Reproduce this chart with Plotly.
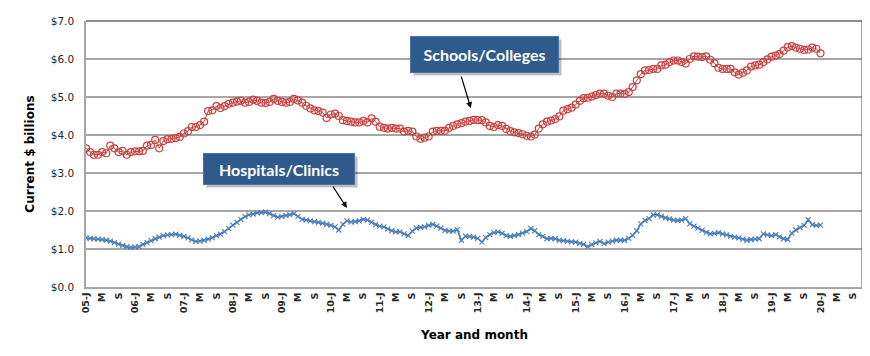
import plotly.graph_objects as go
import pandas as pd

start_month = "2005-01"

schools = [3.65, 3.55, 3.48, 3.48, 3.55, 3.52, 3.72, 3.65, 3.55, 3.58, 3.48, 3.55,
           3.57, 3.57, 3.58, 3.72, 3.74, 3.87, 3.65, 3.84, 3.89, 3.90, 3.92, 3.95,
           4.04, 4.10, 4.21, 4.21, 4.26, 4.35, 4.63, 4.65, 4.76, 4.71, 4.76, 4.82,
           4.85, 4.88, 4.90, 4.85, 4.87, 4.93, 4.90, 4.85, 4.84, 4.87, 4.95, 4.90,
           4.87, 4.85, 4.87, 4.95, 4.91, 4.85, 4.77, 4.70, 4.65, 4.63, 4.59, 4.45,
           4.54, 4.56, 4.50, 4.39, 4.37, 4.35, 4.33, 4.33, 4.37, 4.33, 4.44, 4.35,
           4.22, 4.19, 4.17, 4.19, 4.17, 4.17, 4.09, 4.11, 4.09, 3.96, 3.90, 3.93,
           3.96, 4.09, 4.11, 4.11, 4.11, 4.19, 4.24, 4.28, 4.31, 4.35, 4.37, 4.40,
           4.39, 4.39, 4.33, 4.24, 4.21, 4.26, 4.24, 4.16, 4.10, 4.07, 4.05, 4.02,
           3.98, 3.96, 4.01, 4.17, 4.28, 4.35, 4.38, 4.42, 4.49, 4.64, 4.68, 4.72,
           4.80, 4.90, 4.97, 4.98, 5.01, 5.05, 5.09, 5.09, 5.03, 5.00, 5.09, 5.09,
           5.08, 5.13, 5.26, 5.44, 5.60, 5.70, 5.71, 5.74, 5.74, 5.83, 5.85, 5.92,
           5.96, 5.96, 5.92, 5.88, 6.00, 6.07, 6.06, 6.05, 6.07, 5.98, 5.89, 5.77,
           5.74, 5.74, 5.74, 5.65, 5.59, 5.64, 5.70, 5.80, 5.83, 5.85, 5.92, 5.99,
           6.06, 6.09, 6.13, 6.22, 6.31, 6.34, 6.30, 6.27, 6.24, 6.25, 6.30, 6.27,
           6.15]

hospitals = [1.29, 1.28, 1.27, 1.26, 1.25, 1.23, 1.21, 1.17, 1.13, 1.09, 1.06, 1.04,
             1.05, 1.06, 1.12, 1.17, 1.22, 1.27, 1.31, 1.35, 1.37, 1.38, 1.39, 1.36,
             1.33, 1.29, 1.24, 1.20, 1.21, 1.23, 1.26, 1.30, 1.35, 1.39, 1.46, 1.54,
             1.63, 1.70, 1.78, 1.85, 1.90, 1.92, 1.95, 1.96, 1.97, 1.93, 1.88, 1.84,
             1.86, 1.88, 1.90, 1.93, 1.86, 1.78, 1.76, 1.74, 1.72, 1.70, 1.68, 1.65,
             1.62, 1.58, 1.50, 1.65, 1.74, 1.71, 1.72, 1.74, 1.78, 1.76, 1.70, 1.64,
             1.60, 1.58, 1.53, 1.48, 1.45, 1.45, 1.40, 1.35, 1.47, 1.55, 1.57, 1.58,
             1.62, 1.65, 1.60, 1.55, 1.49, 1.47, 1.47, 1.51, 1.23, 1.34, 1.33, 1.31,
             1.28, 1.18, 1.30, 1.38, 1.43, 1.45, 1.41, 1.35, 1.33, 1.35, 1.38, 1.42,
             1.46, 1.54, 1.48, 1.38, 1.33, 1.27, 1.28, 1.27, 1.23, 1.22, 1.20, 1.19,
             1.18, 1.15, 1.12, 1.06, 1.12, 1.16, 1.20, 1.14, 1.18, 1.21, 1.23, 1.23,
             1.23, 1.28, 1.36, 1.48, 1.66, 1.75, 1.80, 1.90, 1.90, 1.86, 1.82, 1.79,
             1.76, 1.75, 1.76, 1.80, 1.66, 1.60, 1.55, 1.49, 1.44, 1.40, 1.41, 1.43,
             1.40, 1.37, 1.33, 1.31, 1.29, 1.26, 1.23, 1.25, 1.26, 1.27, 1.40, 1.37,
             1.35, 1.38, 1.32, 1.27, 1.25, 1.42, 1.50, 1.56, 1.62, 1.77, 1.64, 1.62,
             1.63]

tick_years = list(range(5, 21))
tick_months = ["J", "M", "S"]

months = pd.date_range(start_month, periods=len(schools), freq="MS")
tick_vals = pd.date_range(start_month, "2020-09", freq="4MS")
tick_text = []
for yy in tick_years:
    tick_text += [f"{yy:02d}-{tick_months[0]}", tick_months[1], tick_months[2]]

RED = "#C8413F"
BLUE = "#4A7EBB"
BOX = "#2F5A8C"
FONT = "DejaVu Sans"
BOXFONT = "Lato"

fig = go.Figure()
fig.add_trace(go.Scatter(
    x=months, y=schools, mode="lines+markers", name="Schools/Colleges",
    line=dict(color=RED, width=1),
    marker=dict(symbol="circle-open", size=7, color=RED, line=dict(width=1.2, color=RED)),
))
fig.add_trace(go.Scatter(
    x=months, y=hospitals, mode="lines+markers", name="Hospitals/Clinics",
    line=dict(color=BLUE, width=1.6),
    marker=dict(symbol="x-thin-open", size=5, color=BLUE, line=dict(width=1.1, color=BLUE)),
))

# the page body adds an 8px offset; margins compensate for it
fig.update_layout(
    width=862, height=348,
    margin=dict(l=78, r=7, t=10, b=69),
    paper_bgcolor="white", plot_bgcolor="white",
    showlegend=False,
    font=dict(family=FONT, color="#262626"),
)
fig.update_xaxes(
    range=["2005-01-01", "2020-11-13"],
    tickmode="array", tickvals=tick_vals, ticktext=tick_text,
    tickangle=-90, tickfont=dict(size=9.5, family=FONT, weight="bold", color="#262626"),
    showgrid=False, showline=True, linecolor="#A6A6A6", linewidth=1.5,
    ticks="", zeroline=False,
    title=dict(text="Year and month", font=dict(size=12, family=FONT, weight="bold", color="#000000"), standoff=18),
)
fig.update_yaxes(
    range=[0, 7], dtick=1, tickprefix="$", tickformat=".1f",
    tickfont=dict(size=10.5, family=FONT, color="#262626"),
    showgrid=True, gridcolor="#A6A6A6", gridwidth=1.5,
    showline=True, linecolor="#A6A6A6", linewidth=1.5,
    zeroline=False, ticks="", ticklabelstandoff=8,
    title=dict(text="Current $ billions", font=dict(size=12, family=FONT, weight="bold", color="#000000"), standoff=14),
)

# frame: dark top and right edges
fig.add_shape(type="line", xref="paper", yref="paper", x0=0, x1=1, y0=1, y1=1,
              line=dict(color="#202020", width=1.2))
fig.add_shape(type="line", xref="paper", yref="paper", x0=1, x1=1, y0=0, y1=1,
              line=dict(color="#505050", width=3))

def label_box(x, y, text, w, h, dx, dy):
    # shadow
    fig.add_annotation(x=x, y=y, text=" ", showarrow=False, xshift=dx + 3, yshift=dy - 3,
                       width=w, height=h, bgcolor="rgba(0,0,0,0.25)", borderpad=2,
                       font=dict(size=16, family=BOXFONT))
    fig.add_annotation(x=x, y=y, text=text, showarrow=False, xshift=dx, yshift=dy,
                       width=w, height=h, bgcolor=BOX, bordercolor="#4A74A8", borderwidth=1,
                       borderpad=2, font=dict(size=16, family=BOXFONT, weight="bold", color="white"))

label_box(pd.Timestamp("2013-03-04"), 6.04, "Schools/Colleges", 143, 31, -2, 3)
label_box(pd.Timestamp("2008-12-28"), 3.06, "Hospitals/Clinics", 146, 26, -2, 2)

fig.add_annotation(x=pd.Timestamp("2012-11-10"), y=4.71, text="", showarrow=True,
                   ax=-10, ay=-33, arrowhead=2, arrowsize=1, arrowwidth=1.2, arrowcolor="#000000")
fig.add_annotation(x=pd.Timestamp("2010-05-01"), y=2.08, text="", showarrow=True,
                   ax=-15, ay=-23, arrowhead=2, arrowsize=1, arrowwidth=1.2, arrowcolor="#000000")

fig.write_html("out.html")
